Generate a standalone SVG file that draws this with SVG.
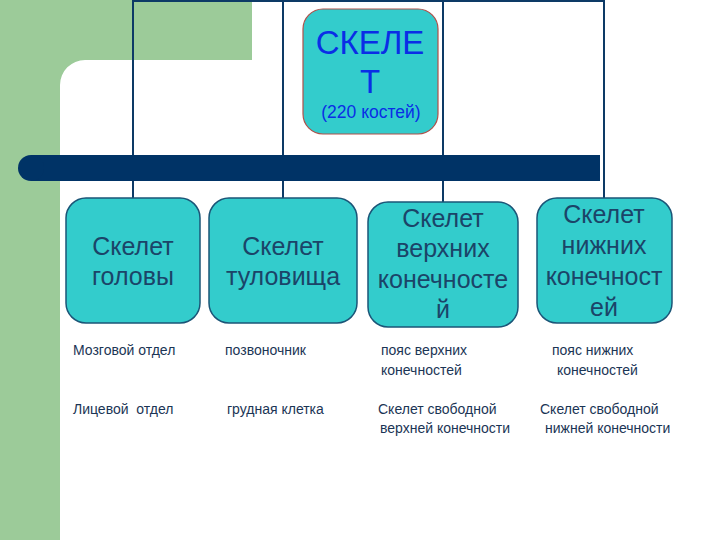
<svg xmlns="http://www.w3.org/2000/svg" width="720" height="540" viewBox="0 0 720 540">
<style>
.bg{fill:#9ccb99}
.ln{stroke:#0d3a66;stroke-width:2;fill:none}
.box{fill:#33cccc;stroke:#1b5577;stroke-width:1.5}
.bt{font-family:"Liberation Sans",Arial,sans-serif;font-size:25px;fill:#1b4468;text-anchor:middle}
.st{font-family:"Liberation Sans",Arial,sans-serif;font-size:14px;fill:#1b3555}
.main{fill:#33cccc;stroke:#b0504a;stroke-width:1.2}
.mt{font-family:"Liberation Sans",Arial,sans-serif;fill:#0a2ee6;text-anchor:middle}
</style>
<rect width="720" height="540" fill="#ffffff"/>
<g id="background">
<path class="bg" d="M0 0H252V60H85A25 25 0 0 0 60 85V540H0Z"/>
</g>
<g id="connectors">
<path class="ln" d="M133 198V1H604V198M283 1V198M443 1V202"/>
<path d="M31 168H600" stroke="#003366" stroke-width="26" fill="none"/>
<circle cx="31" cy="168" r="13" fill="#003366"/>
</g>
<g id="skelet">
<rect class="main" x="303" y="9" width="135" height="125" rx="20"/>
<text class="mt" x="370" y="54" font-size="33">СКЕЛЕ</text>
<text class="mt" x="370" y="93" font-size="33">Т</text>
<text class="mt" x="371" y="118" font-size="17.5">(220 костей)</text>
</g>
<g id="head">
<rect class="box" x="66" y="198" width="134" height="125" rx="20"/>
<text class="bt" x="133" y="255">Скелет</text>
<text class="bt" x="133" y="285">головы</text>
</g>
<g id="trunk">
<rect class="box" x="209" y="198" width="148" height="125" rx="20"/>
<text class="bt" x="283" y="255">Скелет</text>
<text class="bt" x="283" y="285">туловища</text>
</g>
<g id="upper">
<rect class="box" x="368" y="202" width="150" height="125" rx="20"/>
<text class="bt" x="443" y="227">Скелет</text>
<text class="bt" x="443" y="257">верхних</text>
<text class="bt" x="443" y="288">конечносте</text>
<text class="bt" x="443" y="318">й</text>
</g>
<g id="lower">
<rect class="box" x="537" y="198" width="135" height="125" rx="20"/>
<text class="bt" x="604" y="223">Скелет</text>
<text class="bt" x="604" y="254">нижних</text>
<text class="bt" x="604" y="285">конечност</text>
<text class="bt" x="604" y="316">ей</text>
</g>
<g id="labels">
<text class="st" x="73" y="355">Мозговой отдел</text>
<text class="st" x="225" y="355">позвоночник</text>
<text class="st" x="73" y="414" xml:space="preserve">Лицевой  отдел</text>
<text class="st" x="227" y="414">грудная клетка</text>
<text class="st" x="381" y="355">пояс верхних</text>
<text class="st" x="381" y="375">конечностей</text>
<text class="st" x="552" y="355">пояс нижних</text>
<text class="st" x="557" y="375">конечностей</text>
<text class="st" x="378" y="414">Скелет свободной</text>
<text class="st" x="380" y="433">верхней конечности</text>
<text class="st" x="540" y="414">Скелет свободной</text>
<text class="st" x="545" y="433">нижней конечности</text>
</g>
</svg>
